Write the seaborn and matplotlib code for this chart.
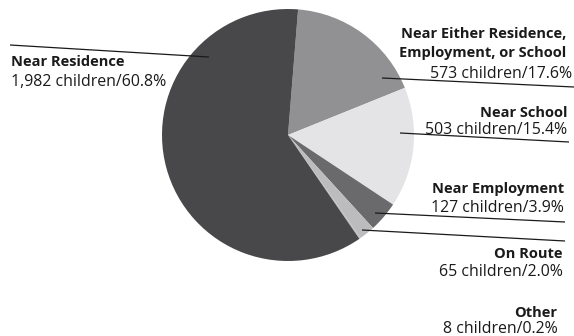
import matplotlib
matplotlib.use("Agg")
import matplotlib.pyplot as plt
import seaborn as sns

# Where children were placed, by type of location
categories = ["Near Either Residence,\nEmployment, or School", "Near School",
              "Near Employment", "On Route", "Other", "Near Residence"]
children = [573, 503, 127, 65, 8, 1982]
percents = [17.6, 15.4, 3.9, 2.0, 0.2, 60.8]
slice_colors = ["#919193", "#e4e4e6", "#6a6a6c", "#bcbcbe", "#bcbcbe", "#48484a"]

sns.set_theme(style="white")
plt.rcParams["font.family"] = ["Open Sans", "DejaVu Sans"]

W, H = 574, 336
fig = plt.figure(figsize=(W / 100, H / 100), dpi=100)
ax = fig.add_axes([0, 0, 1, 1])


def py(y):
    return H - y


ax.pie(percents, colors=slice_colors, startangle=85.4, counterclock=False,
       center=(288, py(135)), radius=126, frame=True,
       wedgeprops=dict(linewidth=0))
ax.set_xlim(0, W)
ax.set_ylim(0, H)
ax.set_axis_off()

# label layout: x of the bold lines, x of the count line, alignment,
# baselines of each line, leader line start and end (pixels from top-left)
layout = {
    "Near Residence": (11, 11, "left", [66.5, 86.5], (10, 45), (209, 57)),
    categories[0]: (566, 572, "right", [37.5, 57.5, 78], (382, 78), (574, 87)),
    "Near School": (567, 567, "right", [117, 134], (400, 133), (569, 142)),
    "Near Employment": (564, 564, "right", [193, 212.5], (375, 213), (565, 222)),
    "On Route": (563, 563, "right", [258.5, 276], (362, 230), (565, 241)),
    "Other": (557, 558, "right", [317, 333], None, None),
}

ink = "#1a1a1a"
for name, n, pct in zip(categories, children, percents):
    xb, xn, ha, ys, p0, p1 = layout[name]
    lines = name.split("\n")
    for line, y in zip(lines, ys):
        ax.text(xb, py(y), line, ha=ha, va="baseline", fontsize=10.5,
                fontweight="bold", color=ink)
    ax.text(xn, py(ys[-1]), f"{n:,} children/{pct:.1f}%", ha=ha,
            va="baseline", fontsize=11.4, color=ink)
    if p0 is not None:
        ax.plot([p0[0], p1[0]], [py(p0[1]), py(p1[1])], color=ink,
                linewidth=0.9, solid_capstyle="butt")

fig.savefig("out.png", dpi=100)
